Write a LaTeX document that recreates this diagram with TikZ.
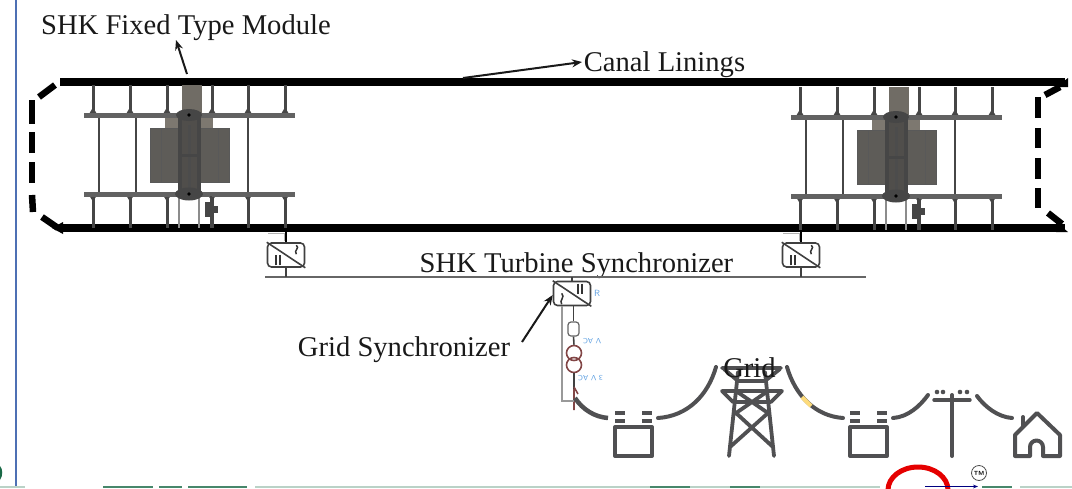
\documentclass[tikz,border=0pt]{standalone}
\usepackage{fontspec}
\setmainfont{Liberation Serif}
\definecolor{steel}{RGB}{70,70,70}
\definecolor{bladegray}{RGB}{94,92,88}
\definecolor{hubgray}{RGB}{125,120,112}
\definecolor{icongray}{RGB}{80,80,82}
\definecolor{wirered}{RGB}{130,70,70}
\definecolor{notesblue}{RGB}{95,160,225}
\definecolor{framedblue}{RGB}{78,112,180}
\definecolor{stripgreen}{RGB}{25,105,70}
\usetikzlibrary{arrows.meta,positioning,calc}

\tikzset{
  module/.pic={
    % blades and shaft housing
    \fill[hubgray] (165,115) rectangle (213,128);
    \fill[hubgray!90!black] (182,85) rectangle (202,115);
    \fill[bladegray] (150,128) rectangle (229,182);
    \draw[black!65,line width=.8pt] (150,128) rectangle (229,182);
    \draw[black!65,line width=.8pt] (161,128) -- (161,182) (218,128) -- (218,182);
    % posts
    \foreach \px in {93,130,167,212,248,285}{
      \draw[post] (\px,85) -- (\px,115);
      \draw[post] (\px,194) -- (\px,228);
      \fill[steel] (\px-4,114) -- (\px+4,114) -- (\px+1,109) -- (\px-1,109) -- cycle;
      \fill[steel] (\px-4,195) -- (\px+4,195) -- (\px+1,200) -- (\px-1,200) -- cycle;
    }
    \foreach \px in {99,136,248}
      \draw[thinpost] (\px,115) -- (\px,194);
    % cross bars
    \draw[bar] (84,115) -- (295,115);
    \draw[bar] (84,194) -- (295,194);
    % columns over the blades
    \fill[bladegray!85!black] (180,115) rectangle (199,194);
    \draw[post,line width=4pt] (180,112) -- (180,196);
    \draw[post,line width=4pt] (199,112) -- (199,196);
    \draw[post,line width=3pt,black!70] (189,125) -- (189,188);
    \draw[post,line width=3pt] (180,155) -- (199,155);
    \draw[thinpost,black!45] (179,196) -- (179,228) (199,196) -- (199,228);
    \fill[steel] (189,115) ellipse (13 and 6);
    \fill[steel] (189,194) ellipse (14 and 6.5);
    \fill[black] (189,115) circle (1.8);
    \fill[black] (189,194) circle (1.8);
    % small generator
    \draw[thinpost] (211,196) -- (211,228);
    \fill[steel] (205,202) rectangle (214,217);
    \fill[steel] (214,206) rectangle (218,213);
  },
  house/.pic={
    \draw[icon,line join=round] (1015,456) -- (1015,435) -- (1037,413) -- (1060,435) -- (1060,456) -- (1043,456)
      -- (1043,447) arc[start angle=0,end angle=-180,radius=6.5] -- (1030,456) -- cycle;
    \draw[icon] (1023,426) -- (1023,417);
  }
}

\begin{document}
\begin{tikzpicture}[
  x=1pt, y=-1pt,
  lbl/.style={font=\fontsize{28.6}{30}\selectfont, inner sep=0pt, text=black!90},
  arr/.style={-{Stealth[length=10pt,width=8pt]}, line width=2pt, black!90},
  rail/.style={line width=7.5pt, black},
  wall/.style={line width=6.5pt, black},
  post/.style={line width=3pt, steel},
  thinpost/.style={line width=2.2pt, steel},
  bar/.style={line width=5pt, steel!85},
  conv/.style={draw=black!75, line width=1.6pt, rounded corners=4pt, minimum width=37pt, minimum height=24pt, inner sep=0pt, fill=white},
  note/.style={font=\fontsize{7.5}{8}\selectfont\sffamily, text=notesblue, inner sep=0pt},
  icon/.style={line width=4pt, icongray, line cap=round},
  wire/.style={line width=1.6pt, black!75},
  greywire/.style={line width=1.4pt, black!40},
  redwire/.style={line width=1.6pt, wirered}
]
  \useasboundingbox (0,0) rectangle (1072,488);

  % frame line and cut-off bits at the page edge
  \draw[line width=2.2pt, framedblue] (16,0) -- (16,487);
  \fill[stripgreen] (0,466) .. controls (3,469) and (3,476) .. (0,480) -- cycle;
  \foreach \sa/\sb in {0/25,255/880,1020/1072}
    \fill[stripgreen!30] (\sa,486) rectangle (\sb,488);
  \foreach \sa/\sb in {103/153,159/182,188/247,650/690,730/760,982/1012}
    \fill[stripgreen!80] (\sa,486) rectangle (\sb,488);

  % canal
  \draw[rail] (60,82) -- (1065,82);
  \draw[rail] (60,228) -- (1065,228);
  \fill (52,228) -- (63,222) -- (63,234) -- cycle;
  \fill (1068,232) -- (1056,232) -- (1056,222) -- cycle;
  \fill (1068,78) -- (1068,87) -- (1056,87) -- cycle;
  \draw[wall] (55,85) -- (39,97);
  \draw[wall] (32,100) -- (32,124) (32,132) -- (32,153) (32,162) -- (32,183);
  \draw[wall] (32,195) -- (33,212);
  \draw[wall] (42,217) -- (58,228);
  \draw[wall] (1045,95) -- (1060,87);
  \draw[wall] (1038,97) -- (1038,118) (1038,128) -- (1038,148) (1038,158) -- (1038,179);
  \draw[wall] (1038,188) -- (1038,208);
  \draw[wall] (1048,213) -- (1062,224);

  % the two turbine modules
  \pic (modA) at (0,0) {module};
  \pic (modB) at (707,2) {module};

  % labels
  \node[lbl] (fixed) at (186,28) {SHK Fixed Type Module};
  \node[lbl] (lining) at (664.5,65) {Canal Linings};
  \node[lbl] (turbine) at (576.5,266) {SHK Turbine Synchronizer};
  \node[lbl] (gridsync) at (404,350) {Grid Synchronizer};
  \coordinate (fixedend) at (187,74);
  \coordinate (liningend) at (463,78);
  \coordinate (liningtip) at (582,62);
  \draw[arr] (fixedend) -- (176,40);
  \draw[arr] (liningend) -- (liningtip);

  % synchronizers on the bus
  \node[conv] (convA) at (286,255) {};
  \node[conv] (convB) at (801,255) {};
  \node[conv] (convG) at (572,293.5) {};
  \coordinate (busL) at (265,277);
  \coordinate (busR) at (866,277);
  \draw[line width=1.4pt, black!60] (busL) -- (busR);
  \foreach \cv in {convA,convB}{
    \draw[black!75, line width=1.6pt] (\cv.north west) -- (\cv.south east);
    \draw[black!75, line width=1.6pt] (\cv.south) -- (\cv.south |- busL);
    \draw[black, line width=2.6pt] (\cv.north) -- ++(0,-11);
    \draw[black!30, line width=.9pt] ($(\cv.north)+(-2,-1)$) |- ++(-16,-8);
    \draw[black!80, line width=2.2pt] ($(\cv.south west)+(9,-2.5)$) -- ++(0,-10) ($(\cv.south west)+(13.5,-2.5)$) -- ++(0,-10);
    \draw[black!80, line width=1.5pt] ($(\cv.north east)+(-9,3)$) .. controls ($(\cv.north east)+(-5,6)$) and ($(\cv.north east)+(-12,8)$) .. ($(\cv.north east)+(-9,12)$);
  }
  \draw[black!75, line width=1.6pt] (convG.north west) -- (convG.south east);
  \draw[black!75, line width=1.4pt] (convG.north) -- (convG.north |- busL);
  \draw[black!80, line width=2.2pt] ($(convG.north east)+(-9,3)$) -- ++(0,10) ($(convG.north east)+(-13.5,3)$) -- ++(0,10);
  \draw[black!80, line width=1.5pt] ($(convG.south west)+(9,-13)$) .. controls ($(convG.south west)+(13,-9)$) and ($(convG.south west)+(6,-6)$) .. ($(convG.south west)+(9,-2)$);
  \draw[arr] (522,342) -- (convG.west |- 0,295);

  % feeder down to the grid
  \node[draw=black!60, line width=1.2pt, rounded corners=3pt, minimum width=11pt, minimum height=14pt, inner sep=0pt] (breaker) at (573.5,329) {};
  \node[circle, draw=wirered, line width=1.6pt, minimum size=15pt, inner sep=0pt] (trafoA) at (574,353) {};
  \node[circle, draw=wirered, line width=1.6pt, minimum size=15pt, inner sep=0pt] (trafoB) at (574,365) {};
  \coordinate (feedend) at (574,389);
  \draw[wire] (breaker.north) -- (breaker.north |- convG.south);
  \draw[wire] (breaker.south) -- (trafoA.north);
  \draw[wire] (trafoB.south) -- (feedend);
  \draw[redwire] (feedend) -- (574,410) (574,387) -- (578,394);
  \draw[greywire] ($(convG.south)+(-10,0)$) |- (574,401);
  \node[note, rotate=180] (acup) at (592,341) {V AC};
  \node[note, rotate=180] (aclow) at (590.5,378) {3 V AC};
  \node[note, font=\fontsize{9}{9}\selectfont\sffamily] (rnote) at (597,293) {R};

  % grid icons
  \draw[icon, line cap=butt, line width=4.5pt] (575,398) .. controls (583,410) and (595,417) .. (608,418);
  \draw[icon] (658,418) .. controls (688,416) and (708,395) .. (716,367);
  \draw[icon] (787,367) .. controls (795,395) and (815,416) .. (843,418);
  \draw[line width=4.2pt, yellow!50!orange!50] (802,397) -- (811,406);
  \draw[icon] (893,418) .. controls (908,417) and (920,406) .. (928,395);
  \draw[icon] (977,396) .. controls (985,407) and (998,417) .. (1012,418);
  \foreach \ix in {615,850}{
    \draw[icon, line cap=butt, line join=round] (\ix,427) rectangle ++(37,29);
    \draw[icon, line width=3.4pt, line cap=butt] (\ix,413) -- ++(10,0) (\ix,421) -- ++(10,0) (\ix+27,413) -- ++(10,0) (\ix+27,421) -- ++(10,0);
  }
  % tower
  \draw[icon, line width=3.8pt, line join=round]
    (729,456) -- (738,372) (774,456) -- (765,372)
    (722,368) -- (781,368) (724,369) -- (738,381) (780,369) -- (765,381) (738,381) -- (765,381)
    (722,391) -- (782,391) (722,391) -- (733,402) (782,391) -- (771,402) (733,402) -- (771,402)
    (736,391) -- (768,413) (768,391) -- (736,413)
    (736,413) -- (773,447) (768,413) -- (730,447);
  % pole
  \draw[icon] (952,395) -- (952,456);
  \draw[icon, line width=3.4pt] (934,400) -- (970,400);
  \foreach \ix in {937,943,960,967}
    \fill[icongray] (\ix,392) circle (2.3);
  \pic (home) at (0,0) {house};
  \node[lbl] (gridlbl) at (749.5,368) {Grid};

  % logo bits at the page edge
  \draw[line width=5pt, red!90!black] (888,490) arc[start angle=180,end angle=360,x radius=30,y radius=23];
  \draw[-{Stealth[length=5pt]}, line width=1.4pt, blue!50!black] (925,486.5) -- (978,486.5);
  \node[circle, draw=black!70, line width=.8pt, minimum size=15pt, inner sep=0pt, font=\fontsize{6}{6}\selectfont\sffamily\bfseries] (tmark) at (979,473) {TM};
\end{tikzpicture}
\end{document}
